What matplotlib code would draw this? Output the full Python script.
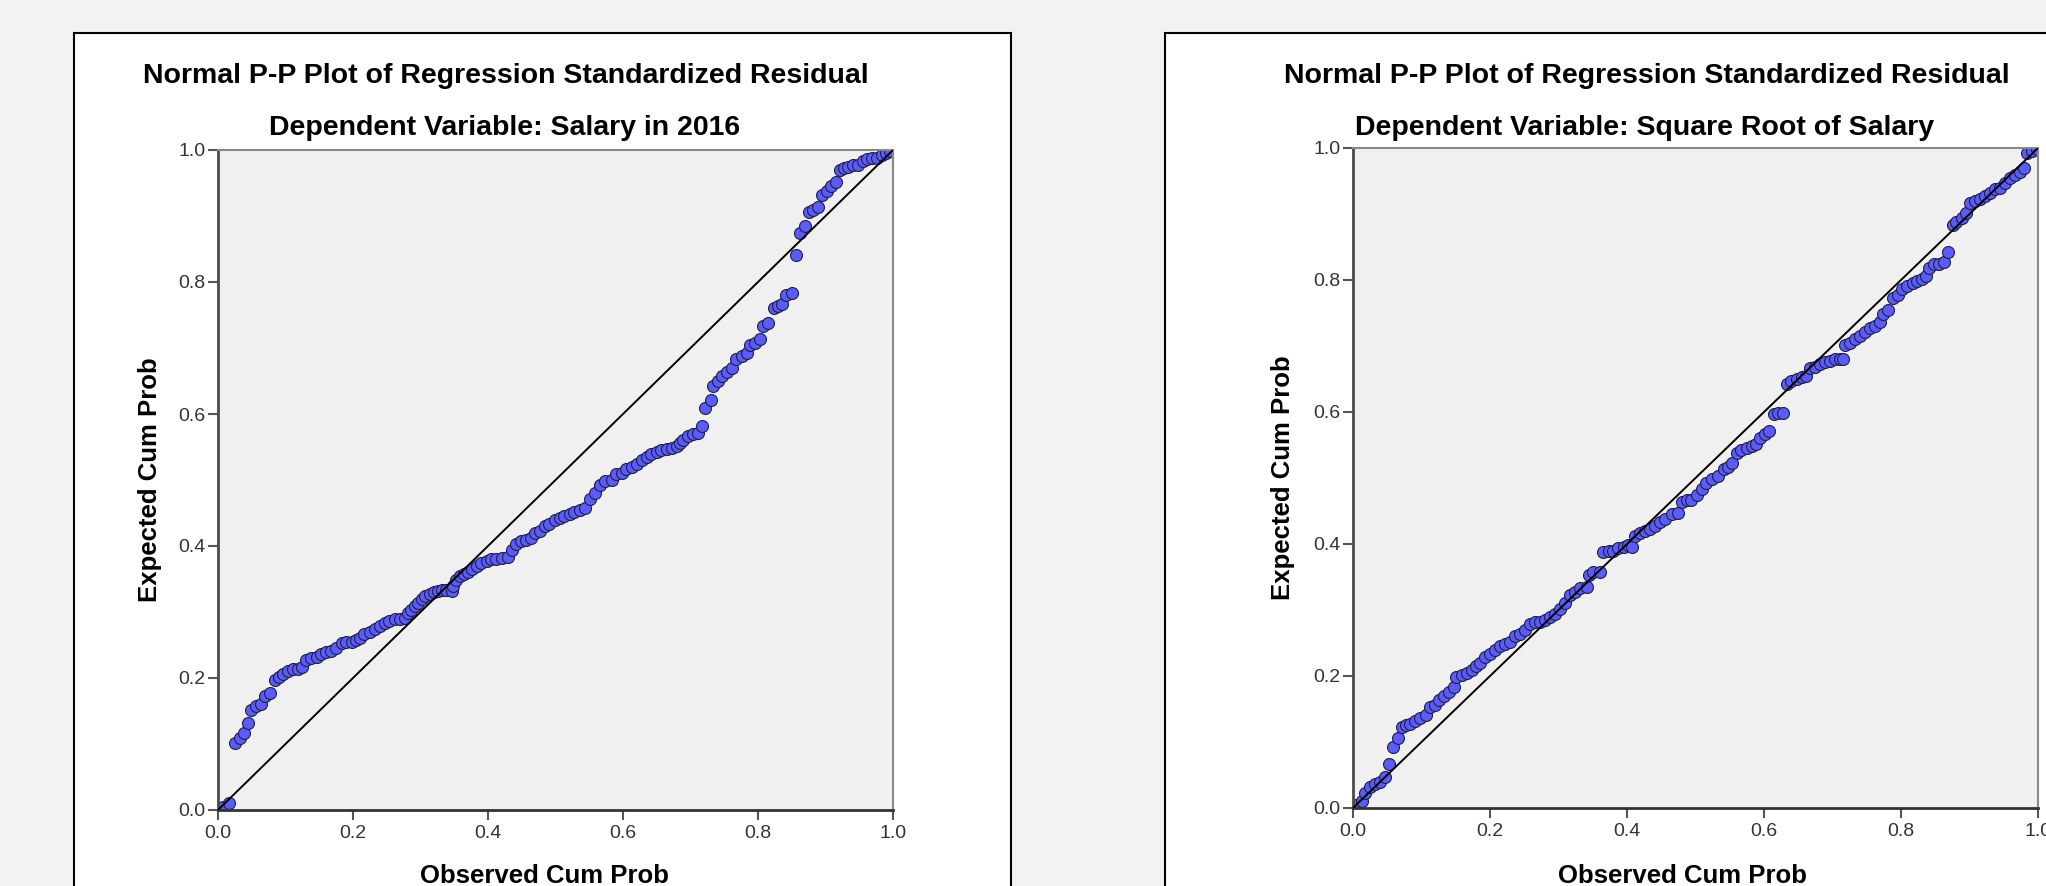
import matplotlib.pyplot as plt
from matplotlib.patches import Rectangle

plt.rcParams['font.family'] = ['Liberation Sans', 'DejaVu Sans']

# observed / expected cumulative probabilities
left_x = [0.003, 0.008, 0.017, 0.025, 0.032, 0.039, 0.044, 0.049, 0.057, 0.063,
          0.069, 0.077, 0.084, 0.090, 0.096, 0.104, 0.111, 0.119, 0.124, 0.131,
          0.138, 0.146, 0.153, 0.160, 0.168, 0.175, 0.183, 0.190, 0.198, 0.205,
          0.211, 0.217, 0.225, 0.232, 0.240, 0.247, 0.254, 0.262, 0.269, 0.277,
          0.281, 0.286, 0.292, 0.296, 0.302, 0.307, 0.314, 0.320, 0.326, 0.332,
          0.338, 0.346, 0.348, 0.353, 0.358, 0.364, 0.370, 0.376, 0.383, 0.390,
          0.398, 0.405, 0.412, 0.420, 0.430, 0.435, 0.442, 0.449, 0.457, 0.464,
          0.469, 0.477, 0.484, 0.491, 0.499, 0.506, 0.513, 0.521, 0.528, 0.536,
          0.543, 0.551, 0.559, 0.566, 0.574, 0.583, 0.590, 0.598, 0.605, 0.613,
          0.620, 0.628, 0.635, 0.642, 0.650, 0.657, 0.665, 0.672, 0.680, 0.684,
          0.689, 0.697, 0.704, 0.711, 0.717, 0.721, 0.730, 0.734, 0.741, 0.747,
          0.754, 0.762, 0.768, 0.776, 0.783, 0.788, 0.796, 0.803, 0.808, 0.815,
          0.823, 0.830, 0.836, 0.842, 0.850, 0.856, 0.862, 0.870, 0.876, 0.882,
          0.889, 0.895, 0.902, 0.908, 0.916, 0.921, 0.927, 0.934, 0.941, 0.948,
          0.955, 0.962, 0.969, 0.977, 0.983, 0.990, 0.996]
left_y = [0.001, 0.004, 0.010, 0.101, 0.109, 0.116, 0.132, 0.152, 0.157, 0.161,
          0.173, 0.178, 0.197, 0.201, 0.206, 0.211, 0.213, 0.214, 0.216, 0.227,
          0.230, 0.232, 0.236, 0.239, 0.241, 0.245, 0.253, 0.254, 0.254, 0.257,
          0.260, 0.267, 0.270, 0.275, 0.279, 0.283, 0.287, 0.289, 0.290, 0.291,
          0.298, 0.303, 0.309, 0.314, 0.319, 0.324, 0.328, 0.331, 0.332, 0.333,
          0.333, 0.332, 0.339, 0.348, 0.355, 0.358, 0.361, 0.365, 0.370, 0.374,
          0.377, 0.381, 0.381, 0.382, 0.383, 0.394, 0.403, 0.407, 0.409, 0.412,
          0.420, 0.423, 0.430, 0.433, 0.439, 0.443, 0.446, 0.449, 0.452, 0.455,
          0.458, 0.471, 0.481, 0.493, 0.499, 0.500, 0.509, 0.511, 0.516, 0.520,
          0.525, 0.530, 0.535, 0.540, 0.542, 0.545, 0.547, 0.549, 0.552, 0.556,
          0.561, 0.567, 0.570, 0.571, 0.582, 0.609, 0.621, 0.643, 0.650, 0.658,
          0.664, 0.670, 0.684, 0.688, 0.692, 0.704, 0.708, 0.713, 0.733, 0.738,
          0.761, 0.763, 0.766, 0.781, 0.783, 0.841, 0.874, 0.885, 0.906, 0.909,
          0.914, 0.932, 0.938, 0.946, 0.952, 0.970, 0.973, 0.975, 0.977, 0.977,
          0.983, 0.987, 0.988, 0.988, 0.992, 0.996, 0.998]

right_x = [0.005, 0.013, 0.018, 0.025, 0.032, 0.039, 0.047, 0.053, 0.059, 0.066,
           0.071, 0.077, 0.083, 0.090, 0.098, 0.107, 0.112, 0.120, 0.126, 0.133,
           0.140, 0.147, 0.151, 0.159, 0.166, 0.173, 0.180, 0.186, 0.193, 0.200,
           0.207, 0.215, 0.222, 0.229, 0.236, 0.244, 0.251, 0.258, 0.266, 0.273,
           0.280, 0.288, 0.295, 0.302, 0.309, 0.317, 0.324, 0.331, 0.341, 0.345,
           0.351, 0.360, 0.365, 0.373, 0.380, 0.387, 0.395, 0.402, 0.408, 0.412,
           0.419, 0.426, 0.434, 0.441, 0.448, 0.455, 0.465, 0.475, 0.480, 0.487,
           0.494, 0.502, 0.509, 0.516, 0.524, 0.533, 0.541, 0.548, 0.554, 0.560,
           0.567, 0.575, 0.582, 0.588, 0.594, 0.601, 0.608, 0.614, 0.621, 0.628,
           0.633, 0.640, 0.648, 0.655, 0.662, 0.667, 0.675, 0.682, 0.689, 0.696,
           0.704, 0.711, 0.716, 0.718, 0.726, 0.733, 0.740, 0.748, 0.755, 0.762,
           0.769, 0.774, 0.781, 0.788, 0.795, 0.802, 0.809, 0.817, 0.824, 0.830,
           0.837, 0.841, 0.848, 0.856, 0.863, 0.869, 0.876, 0.881, 0.889, 0.895,
           0.901, 0.908, 0.915, 0.922, 0.930, 0.937, 0.944, 0.952, 0.959, 0.966,
           0.974, 0.979, 0.984, 0.991, 0.998]
right_y = [0.005, 0.010, 0.022, 0.032, 0.036, 0.040, 0.047, 0.067, 0.093, 0.106,
           0.123, 0.126, 0.128, 0.132, 0.136, 0.141, 0.153, 0.156, 0.163, 0.169,
           0.176, 0.183, 0.199, 0.201, 0.205, 0.209, 0.215, 0.220, 0.229, 0.234,
           0.239, 0.245, 0.249, 0.252, 0.260, 0.264, 0.270, 0.279, 0.282, 0.282,
           0.285, 0.290, 0.294, 0.302, 0.310, 0.323, 0.328, 0.333, 0.335, 0.353,
           0.357, 0.357, 0.388, 0.389, 0.390, 0.394, 0.396, 0.399, 0.396, 0.412,
           0.416, 0.419, 0.422, 0.428, 0.433, 0.438, 0.445, 0.447, 0.463, 0.466,
           0.466, 0.474, 0.483, 0.493, 0.498, 0.503, 0.513, 0.516, 0.523, 0.538,
           0.543, 0.546, 0.549, 0.551, 0.561, 0.566, 0.571, 0.597, 0.598, 0.599,
           0.642, 0.647, 0.650, 0.653, 0.655, 0.667, 0.668, 0.672, 0.676, 0.677,
           0.680, 0.680, 0.681, 0.701, 0.704, 0.710, 0.715, 0.721, 0.728, 0.731,
           0.736, 0.748, 0.755, 0.773, 0.778, 0.786, 0.791, 0.795, 0.798, 0.802,
           0.806, 0.818, 0.824, 0.825, 0.827, 0.842, 0.884, 0.888, 0.894, 0.902,
           0.916, 0.920, 0.923, 0.927, 0.932, 0.938, 0.940, 0.947, 0.954, 0.959,
           0.963, 0.969, 0.993, 0.995, 0.998]

ticks = [0.0, 0.2, 0.4, 0.6, 0.8, 1.0]
tick_labels = ['0.0', '0.2', '0.4', '0.6', '0.8', '1.0']
title = 'Normal P-P Plot of Regression Standardized Residual'
subtitles = ['Dependent Variable: Salary in 2016',
             'Dependent Variable: Square Root of Salary']

W, H = 2046, 886
fig = plt.figure(figsize=(W / 100, H / 100), dpi=100, facecolor='#f2f2f2')


def fx(x):
    return x / W


def fy(y):
    return 1 - y / H


# white chart frames
fig.add_artist(Rectangle((fx(74), -0.1), fx(1011 - 74), fy(33) + 0.1,
                         transform=fig.transFigure, facecolor='white',
                         edgecolor='black', lw=1.5, zorder=-1))
fig.add_artist(Rectangle((fx(1165), -0.1), 0.6, fy(33) + 0.1,
                         transform=fig.transFigure, facecolor='white',
                         edgecolor='black', lw=1.5, zorder=-1))


def pp_panel(rect, xs, ys):
    ax = fig.add_axes(rect)
    ax.set_facecolor('#f0f0f0')
    ax.scatter(xs, ys, s=74, facecolor='#5a5cf5', edgecolor='#1e1e4a',
               linewidth=0.8, zorder=2)
    ax.plot([0, 1], [0, 1], color='black', lw=1.4, zorder=3)
    ax.set_xlim(0, 1)
    ax.set_ylim(0, 1)
    ax.set_xticks(ticks)
    ax.set_xticklabels(tick_labels)
    ax.set_yticks(ticks)
    ax.set_yticklabels(tick_labels)
    ax.tick_params(direction='out', length=7, width=1.5, color='#555555',
                   labelsize=14, labelcolor='#333333')
    ax.tick_params(axis='y', pad=2)
    ax.tick_params(axis='x', pad=3.5)
    ax.spines['left'].set_color('#4a4a4a')
    ax.spines['bottom'].set_color('#333333')
    ax.spines['left'].set_linewidth(2)
    ax.spines['bottom'].set_linewidth(2)
    ax.spines['top'].set_color('#8a8a8a')
    ax.spines['right'].set_color('#8a8a8a')
    ax.spines['top'].set_linewidth(1.5)
    ax.spines['right'].set_linewidth(1.5)
    return ax


pp_panel([fx(218), fy(810), fx(675), 660 / H], left_x, left_y)
pp_panel([fx(1353), fy(808), fx(685), 660 / H], right_x, right_y)

# titles and axis titles
for cx, sx, sub in [(506, 505, subtitles[0]), (1647, 1645, subtitles[1])]:
    fig.text(fx(cx), fy(83), title, ha='center', va='baseline',
             fontsize=20.5, fontweight='bold')
    fig.text(fx(sx), fy(135), sub, ha='center', va='baseline',
             fontsize=20.5, fontweight='bold')

for lx, ly in [(150, 480), (1283, 478)]:
    fig.text(fx(lx), fy(ly), 'Expected Cum Prob', rotation=90, ha='center',
             va='center', fontsize=18.5, fontweight='bold')

for bx in [544, 1682]:
    fig.text(fx(bx), fy(883), 'Observed Cum Prob', ha='center', va='baseline',
             fontsize=18.5, fontweight='bold')

plt.savefig('out.png', dpi=100, facecolor=fig.get_facecolor())
